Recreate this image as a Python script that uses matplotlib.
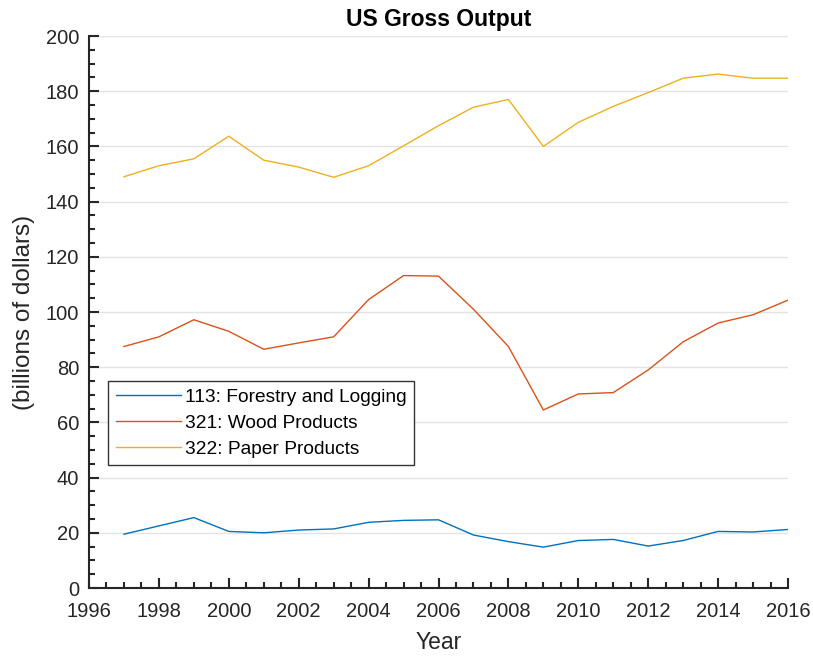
import matplotlib.pyplot as plt
from matplotlib.ticker import MultipleLocator

plt.rcParams['font.family'] = ['Liberation Sans', 'DejaVu Sans']

years = list(range(1997, 2017))
forestry = [19.5, 22.5, 25.5, 20.5, 20.0, 21.0, 21.4, 23.8, 24.5, 24.7,
            19.2, 16.8, 14.8, 17.2, 17.6, 15.2, 17.2, 20.5, 20.3, 21.2]
wood = [87.5, 91.0, 97.2, 93.0, 86.5, 88.8, 91.0, 104.5, 113.2, 113.0,
        101.0, 87.5, 64.5, 70.3, 70.8, 79.0, 89.2, 96.0, 99.0, 104.3]
paper = [149.0, 153.0, 155.5, 163.7, 155.0, 152.5, 148.8, 153.0, 160.2, 167.5,
         174.2, 177.0, 160.0, 168.7, 174.5, 179.5, 184.7, 186.2, 184.7, 184.7]
labels = ['113: Forestry and Logging', '321: Wood Products', '322: Paper Products']
colors = ['#0072BD', '#D95319', '#EDB120']

fig = plt.figure(figsize=(8.13, 6.56), dpi=100)
ax = fig.add_axes([89 / 813, 68 / 656, 699 / 813, 552 / 656])

for ys, lab, c in zip([forestry, wood, paper], labels, colors):
    ax.plot(years, ys, color=c, lw=1.0, label=lab)

ax.set_xlim(1996, 2016)
ax.set_ylim(0, 200)
ax.xaxis.set_major_locator(MultipleLocator(2))
ax.xaxis.set_minor_locator(MultipleLocator(0.5))
ax.yaxis.set_major_locator(MultipleLocator(20))
ax.yaxis.set_minor_locator(MultipleLocator(5))
ax.grid(axis='y', which='major', color='#e3e3e3', lw=1)
ax.set_axisbelow(True)

for s in ['top', 'right']:
    ax.spines[s].set_visible(False)
for s in ['left', 'bottom']:
    ax.spines[s].set_color('#262626')
    ax.spines[s].set_linewidth(1.5)
ax.tick_params(which='both', direction='in', colors='#262626', labelsize=14.5, width=1.5)
ax.tick_params(which='major', length=7)
ax.tick_params(which='minor', length=4)
ax.tick_params(axis='y', pad=7)
ax.tick_params(axis='x', pad=10)

ax.set_xlabel('Year', fontsize=16.5, color='#262626', labelpad=7)
ax.set_ylabel('(billions of dollars)', fontsize=17.5, color='#262626', labelpad=8)
ax.set_title('US Gross Output', fontsize=16.5, fontweight='bold', color='black', pad=7)

leg = ax.legend(loc='lower left', bbox_to_anchor=(0.027, 0.222), fontsize=13.8,
                fancybox=False, edgecolor='#333333', framealpha=1,
                handlelength=3.4, handletextpad=0.2, borderpad=0.4,
                labelspacing=0.45, borderaxespad=0)
leg.get_frame().set_linewidth(1.0)

fig.savefig('out.png', dpi=100)
